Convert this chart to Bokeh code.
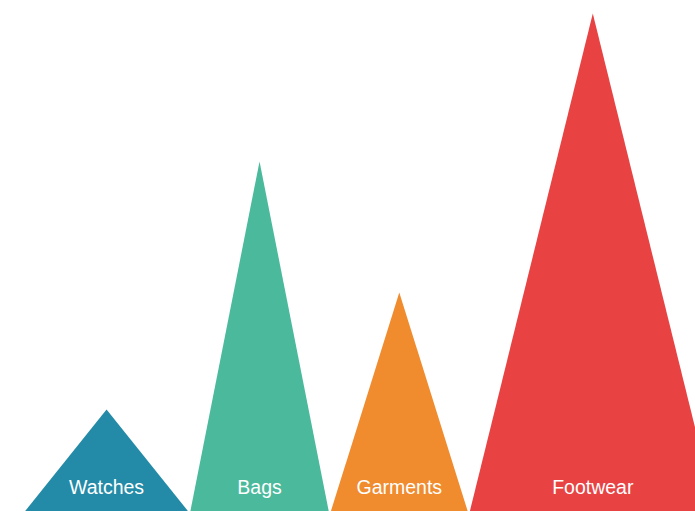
from bokeh.plotting import figure
from bokeh.models import ColumnDataSource, Range1d
from bokeh.core.properties import value
from bokeh.embed import file_html
from bokeh.resources import INLINE

# Data (variable-width triangle columns)
categories = ["Watches", "Bags", "Garments", "Footwear"]
heights = [2.05, 7.03, 4.40, 10.0]      # column value (height)
widths = [6.54, 5.54, 5.48, 9.84]       # column weight (base width)
colors = ["#238BA7", "#4AB99C", "#F08B2E", "#E84243"]

gap = 0.08
xs, ys, cx = [], [], []
left = 0.0
for w, h in zip(widths, heights):
    xs.append([left, left + w / 2.0, left + w])
    ys.append([0, h, 0])
    cx.append(left + w / 2.0)
    left += w + gap

src = ColumnDataSource(dict(xs=xs, ys=ys, color=colors))
lab = ColumnDataSource(dict(x=cx, y=[0.5] * len(categories), text=categories))

p = figure(width=695, height=511, output_backend="svg", toolbar_location=None,
           x_range=Range1d(-0.972, 26.828), y_range=Range1d(0, 10.261),
           min_border=0, min_border_left=0, min_border_right=0,
           min_border_top=0, min_border_bottom=0)
p.patches("xs", "ys", source=src, fill_color="color", line_color=None)
p.text("x", "y", text="text", source=lab, text_color="white",
       text_font=value("Liberation Sans"), text_font_size="19.5px",
       text_align="center", text_baseline="alphabetic")

p.axis.visible = False
p.xgrid.visible = False
p.ygrid.visible = False
p.outline_line_color = None
p.background_fill_color = "white"
p.border_fill_color = "white"

open("out.html", "w").write(file_html(p, INLINE))
